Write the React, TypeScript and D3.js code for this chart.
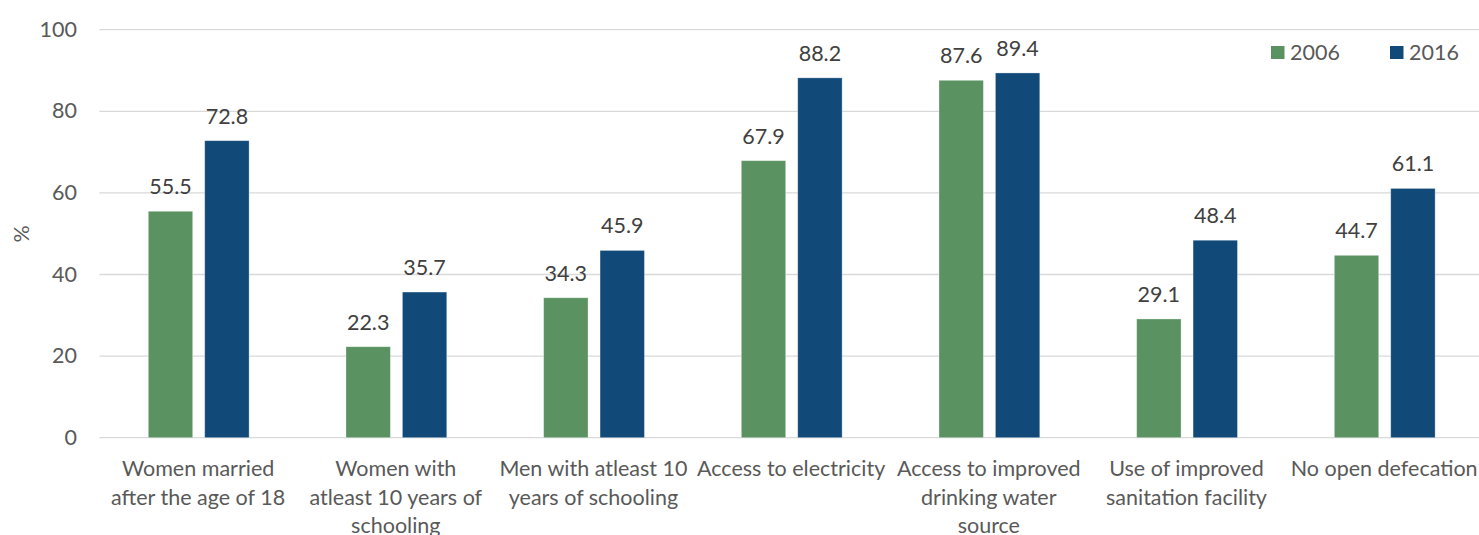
import React from "react";
import * as d3 from "d3";

const categories: string[][] = [
  ["Women married", "after the age of 18"],
  ["Women with", "atleast 10 years of", "schooling"],
  ["Men with atleast 10", "years of schooling"],
  ["Access to electricity"],
  ["Access to improved", "drinking water", "source"],
  ["Use of improved", "sanitation facility"],
  ["No open defecation"],
];
const series2006 = [55.5, 22.3, 34.3, 67.9, 87.6, 29.1, 44.7];
const series2016 = [72.8, 35.7, 45.9, 88.2, 89.4, 48.4, 61.1];
const seriesNames = ["2006", "2016"];
const seriesColors = ["#5A9361", "#114A79"];
const yTicks = [0, 20, 40, 60, 80, 100];

const W = 1479;
const H = 535;
const FONT = "Lato, 'Open Sans', sans-serif";
const FS = 21.5;

export default function App() {
  const keys = categories.map((c, i) => String(i));
  const x = d3.scaleBand<string>().domain(keys).range([99.3, 1483]).padding(0);
  const inner = d3
    .scaleBand<string>()
    .domain(seriesNames)
    .range([49, 49 + 100.8])
    .paddingInner(0.213)
    .paddingOuter(0);
  const y = d3.scaleLinear().domain([0, 100]).range([437.7, 29.7]);
  const data = [series2006, series2016];

  return (
    <svg
      width={W}
      height={H}
      style={{ position: "absolute", left: 0, top: 0, background: "#fff" }}
      fontFamily={FONT}
    >
      {yTicks.map((t) => (
        <g key={t}>
          <line x1={99.3} x2={W} y1={y(t)} y2={y(t)} stroke="#d9d9d9" strokeWidth={1.3} />
          <text x={77} y={y(t) + 7} textAnchor="end" fontSize={FS} fill="#595959">
            {t}
          </text>
        </g>
      ))}
      <text
        transform={`translate(29,234) rotate(-90)`}
        textAnchor="middle"
        fontSize={FS}
        fill="#595959"
      >
        %
      </text>
      {keys.map((k, i) => (
        <g key={k} transform={`translate(${x(k)},0)`}>
          {seriesNames.map((s, j) => {
            const v = data[j][i];
            const bx = inner(s)!;
            const bw = inner.bandwidth();
            return (
              <g key={s}>
                <rect
                  x={bx}
                  y={y(v)}
                  width={bw}
                  height={y(0) - y(v)}
                  fill={seriesColors[j]}
                  stroke="#ffffff"
                  strokeOpacity={0.4}
                  strokeWidth={0.8}
                />
                <text
                  x={bx + bw / 2}
                  y={y(v) - 17}
                  textAnchor="middle"
                  fontSize={FS}
                  fill="#404040"
                >
                  {v.toFixed(1)}
                </text>
              </g>
            );
          })}
          {categories[i].map((line, li) => (
            <text
              key={li}
              x={x.bandwidth() / 2}
              y={476 + li * 28.6}
              textAnchor="middle"
              fontSize={FS}
              fill="#595959"
            >
              {line}
            </text>
          ))}
        </g>
      ))}
      {seriesNames.map((s, j) => {
        const lx = [1271, 1390][j];
        return (
          <g key={s}>
            <rect x={lx} y={46} width={13.5} height={13} fill={seriesColors[j]} />
            <text x={lx + 19} y={59.5} fontSize={FS} fill="#595959">
              {s}
            </text>
          </g>
        );
      })}
    </svg>
  );
}
